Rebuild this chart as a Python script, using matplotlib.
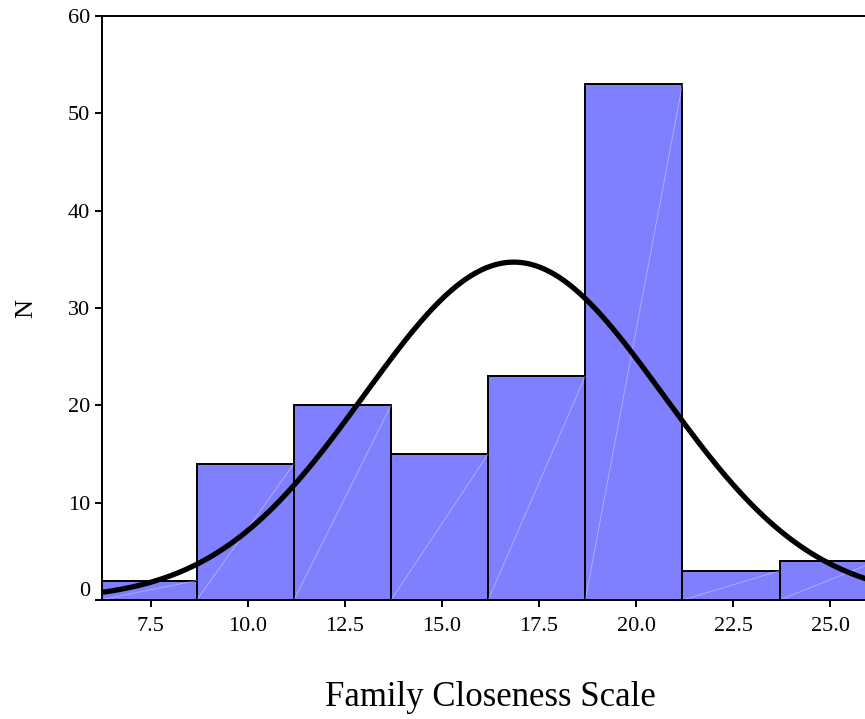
"""SPSS-style histogram of the Family Closeness Scale with a fitted normal curve."""
import numpy as np
import matplotlib
matplotlib.use("Agg")
import matplotlib.pyplot as plt
import matplotlib.transforms as mtransforms

# bin centres and counts
bin_centers = [7.5, 10.0, 12.5, 15.0, 17.5, 20.0, 22.5, 25.0]
counts = [2, 14, 20, 15, 23, 53, 3, 4]
bin_width = 2.5
# normal curve parameters (mean / std dev of the scale)
curve_mean = 16.85
curve_sd = 3.85
x_ticks = [7.5, 10.0, 12.5, 15.0, 17.5, 20.0, 22.5, 25.0]
y_ticks = [0, 10, 20, 30, 40, 50, 60]

plt.rcParams.update({
    "font.family": ["Liberation Serif", "DejaVu Serif"],
    "font.size": 16,
})

fig = plt.figure(figsize=(8.65, 7.19), dpi=100)
ax = fig.add_axes([102 / 865, 119 / 719, 777 / 865, 584 / 719])

centers = np.array(bin_centers)
h = np.array(counts)
ax.bar(centers - 0.06, h, width=bin_width, color="#8080ff", edgecolor="black",
       linewidth=1.4, zorder=2)
# faint diagonal highlight SPSS draws inside each bar
for c, v in zip(centers - 0.06, h):
    ax.plot([c - bin_width / 2, c + bin_width / 2], [0, v], color="white",
            lw=0.6, alpha=0.4, zorder=2.5)

n = h.sum()
xs = np.linspace(6.25, 26.25, 400)
ys = n * bin_width / (curve_sd * np.sqrt(2 * np.pi)) * \
    np.exp(-0.5 * ((xs - curve_mean) / curve_sd) ** 2)
ax.plot(xs, ys, color="black", lw=3.8, zorder=3, solid_capstyle="round")

ax.set_xlim(6.25, 26.25)
ax.set_ylim(0, 60)
ax.set_xticks(x_ticks)
ax.set_xticklabels([f"{t:.1f}" for t in x_ticks])
ax.set_yticks(y_ticks)
ax.tick_params(direction="out", length=5, width=1.4, labelsize=16)
ax.tick_params(axis="x", pad=7)
for s in ax.spines.values():
    s.set_linewidth(1.4)
ax.spines["right"].set_visible(False)

# SPSS lifts the "0" label slightly above its tick
lbl0 = ax.get_yticklabels()[0]
lbl0.set_transform(lbl0.get_transform() +
                   mtransforms.ScaledTranslation(0, 11 / 100, fig.dpi_scale_trans))

ax.set_xlabel("Family Closeness Scale", fontsize=25, labelpad=33)
ax.set_ylabel("N", fontsize=19, labelpad=22)

fig.savefig("out.png", dpi=100)
